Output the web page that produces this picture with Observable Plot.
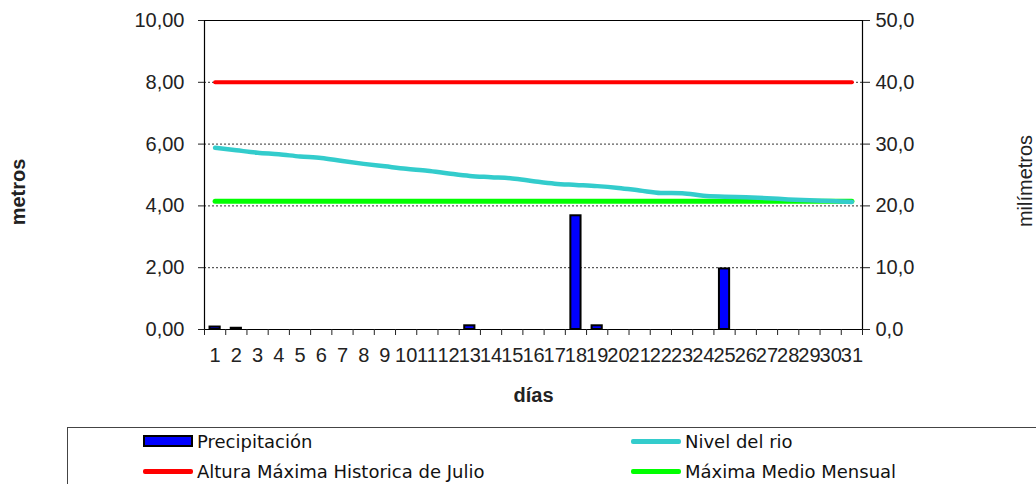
<!DOCTYPE html>
<html>
<head>
<meta charset="utf-8">
<script src="https://cdn.jsdelivr.net/npm/d3@7"></script>
<script src="https://cdn.jsdelivr.net/npm/@observablehq/plot@0.6"></script>
<style>
  html, body { margin: 0; padding: 0; background: #fff; overflow: hidden; }
  #wrap { position: relative; width: 1036px; height: 484px; }
  #legend { position: absolute; left: 67px; top: 427px; width: 990px; height: 80px;
    border: 1px solid #444; box-sizing: border-box; font-family: "DejaVu Sans", sans-serif; font-size: 18px; color: #111; }
  .item { position: absolute; display: flex; align-items: center; height: 20px; }
  .sw { width: 50px; margin-right: 4px; box-sizing: border-box; }
</style>
</head>
<body>
<div id="wrap">
  <div id="chart"></div>
  <div id="legend"></div>
</div>
<script>
const days = d3.range(1, 32);
const precipitacion = [0.4, 0.2, 0, 0, 0, 0, 0, 0, 0, 0, 0, 0, 0.6, 0, 0, 0, 0, 18.4, 0.6, 0, 0, 0, 0, 0, 9.8, 0, 0, 0, 0, 0, 0];
const nivelRio = [5.88, 5.80, 5.72, 5.67, 5.60, 5.55, 5.45, 5.36, 5.28, 5.20, 5.14, 5.05, 4.97, 4.93, 4.89, 4.80, 4.72, 4.68, 4.64, 4.58, 4.50, 4.42, 4.41, 4.33, 4.30, 4.28, 4.25, 4.21, 4.18, 4.16, 4.13];
const alturaMaxJulio = 8.00;
const maximaMedioMensual = 4.15;
const leftTicks = [0, 2, 4, 6, 8, 10];
const gridTicks = [2, 4, 6, 8];
const mmPerMetro = 5;
const seriesNames = ["Precipitación", "Nivel del rio", "Altura Máxima Historica de Julio", "Máxima Medio Mensual"];
const colors = { precip: "#0000ff", nivel: "#33cccc", altura: "#ff0000", media: "#00ff00" };

const rows = days.map((d, i) => ({ day: d, mm: precipitacion[i], nivel: nivelRio[i] }));
const boundaries = d3.range(0.5, 32, 1);

const chart = Plot.plot({
  width: 1036, height: 420,
  marginLeft: 204, marginRight: 174, marginTop: 20, marginBottom: 91,
  x: { type: "linear", domain: [0.5, 31.5] },
  y: { domain: [0, 10] },
  style: { fontFamily: "'Liberation Sans', Arial, sans-serif", fontSize: "20px", color: "#222", background: "#fff" },
  marks: [
    Plot.ruleY(gridTicks, { stroke: "#333", strokeWidth: 1, strokeDasharray: "2,2" }),
    Plot.line(days, { x: d => d, y: () => alturaMaxJulio, stroke: colors.altura, strokeWidth: 4 }),
    Plot.line(days, { x: d => d, y: () => maximaMedioMensual, stroke: colors.media, strokeWidth: 5 }),
    Plot.line(rows, { x: "day", y: "nivel", stroke: colors.nivel, strokeWidth: 4.5, curve: "monotone-x" }),
    Plot.rectY(rows.filter(r => r.mm > 0), { x1: d => d.day - 0.24, x2: d => d.day + 0.24, y1: 0, y2: d => d.mm / mmPerMetro, fill: colors.precip, stroke: "#000", strokeWidth: 2 }),
    Plot.ruleY([0, 10], { stroke: "#000", strokeWidth: 1.2 }),
    Plot.ruleX([0.5, 31.5], { stroke: "#000", strokeWidth: 1.2 }),
    Plot.axisY({ anchor: "left", ticks: leftTicks, tickSize: 6, tickPadding: 14, label: null,
      tickFormat: d => d.toFixed(2).replace(".", ","), fontSize: 20 }),
    Plot.axisY({ anchor: "right", ticks: leftTicks, tickSize: 7, tickPadding: 6, label: null,
      tickFormat: d => (d * mmPerMetro).toFixed(1).replace(".", ","), fontSize: 20 }),
    Plot.axisX({ ticks: boundaries, tickSize: 6, tickFormat: () => "", label: null }),
    Plot.axisX({ ticks: days, tickSize: 0, tickPadding: 18, tickFormat: d => String(d), label: null, fontSize: 20 }),
    Plot.text(["días"], { frameAnchor: "bottom", dy: 72, fontWeight: "bold", fontSize: 20 }),
    Plot.text(["metros"], { frameAnchor: "left", textAnchor: "middle", dx: -186, dy: 17, rotate: -90, fontWeight: "bold", fontSize: 20 }),
    Plot.text(["milímetros"], { frameAnchor: "right", textAnchor: "middle", dx: 163, dy: 6, rotate: -90, fontSize: 20 })
  ]
});
document.getElementById("chart").appendChild(chart);

const legend = document.getElementById("legend");
const items = [
  { name: seriesNames[0], left: 75, top: 3, kind: "rect", color: colors.precip },
  { name: seriesNames[1], left: 563, top: 3, kind: "line", color: colors.nivel },
  { name: seriesNames[2], left: 75, top: 33, kind: "line", color: colors.altura },
  { name: seriesNames[3], left: 563, top: 33, kind: "line", color: colors.media }
];
for (const it of items) {
  const div = document.createElement("div");
  div.className = "item";
  div.style.left = it.left + "px";
  div.style.top = it.top + "px";
  const sw = document.createElement("div");
  sw.className = "sw";
  if (it.kind === "rect") {
    sw.style.height = "12px"; sw.style.background = it.color; sw.style.border = "2px solid #000";
  } else {
    sw.style.height = "5px"; sw.style.background = it.color; sw.style.borderRadius = "2px";
  }
  const tx = document.createElement("span");
  tx.textContent = it.name;
  div.appendChild(sw); div.appendChild(tx);
  legend.appendChild(div);
}
</script>
</body>
</html>
